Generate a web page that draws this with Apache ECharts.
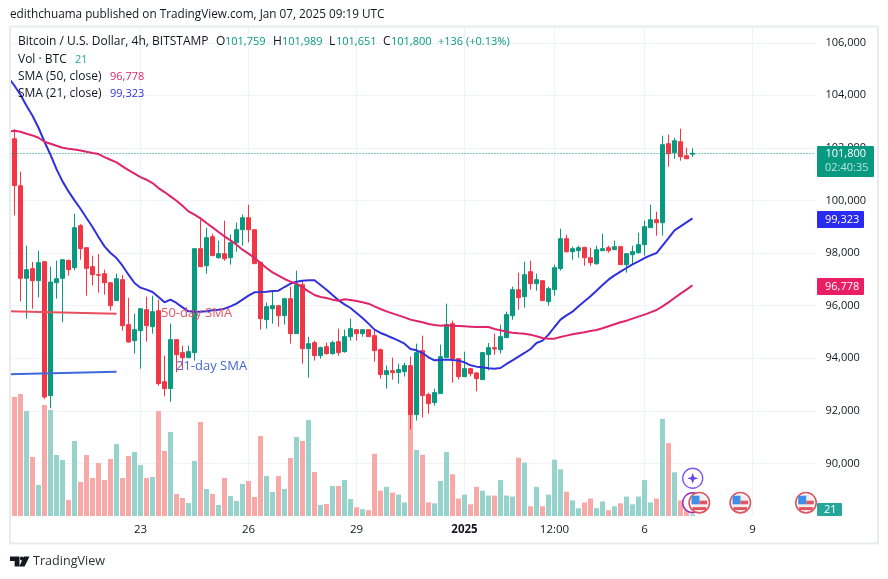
<!DOCTYPE html>
<html><head><meta charset="utf-8">
<style>html,body{margin:0;padding:0;background:#fff}#c{width:888px;height:579px}</style>
<script src="https://cdn.jsdelivr.net/npm/echarts@6/dist/echarts.min.js"></script>
</head><body><div id="c"></div>
<script>
const tickIndex=[21,39,57,75,90,105,123];
const tickText=['23','26','29','2025','12:00','6','9'];
const priceTicksMin=88000, priceTicksMax=106600, priceStep=2000;
const opens=[102350,100563,97040,97407,96951,97673,92579,96875,97040,97724,
97445,99042,98206,97483,97179,97217,96875,96191,96989,95278,
94670,95050,95848,95202,95810,93111,92845,94708,94214,94024,
94214,98168,97521,98624,97825,97977,97825,98396,98890,99346,
98890,97648,95469,95887,96001,95620,96267,94936,96799,94366,
94594,94100,94442,94176,94632,94252,94822,95088,94936,95088,
94860,94328,93378,93529,93454,93492,93720,91857,94290,92617,
92313,92655,94024,95317,93986,93301,93605,93441,93187,94138,
94404,94328,94784,95620,96609,96343,97293,96837,96951,96153,
96609,97407,98548,98053,98092,98218,97825,97597,98092,98206,
98130,98244,97559,97940,98015,98320,98966,99270,99156,102160,
101817,102236,101703,101759];
const closes=[100575,97040,97369,96951,97635,92528,96900,97027,97749,97369,
98966,98168,97420,97179,97154,96875,96000,97027,95240,94619,
95088,95886,95240,95772,93035,92845,94708,94138,94024,94252,
98168,97483,98586,97901,97977,97787,98396,98890,99346,98890,
97598,95507,95963,96001,95620,96267,94936,96799,94366,94556,
94100,94404,94176,94594,94214,94822,95126,94936,95088,94822,
94290,93378,93529,93454,93568,93720,91857,94214,92579,92275,
92693,94062,95278,93986,93301,93605,93415,93225,94214,94404,
94353,94822,95658,96609,96305,97179,96837,96989,96191,96647,
97445,98548,98053,98168,98206,97825,97635,98130,98168,98092,
98244,97559,97977,98053,98320,99004,99270,99156,102122,101779,
102274,101665,101589,101800];
const lows=[99435,96165,95506,95886,96317,92452,92097,96267,95367,97141,
97344,97749,96381,96774,96495,96419,95810,96191,95050,94594,
94176,93605,94632,94936,92959,92553,92351,93466,93567,94024,
93909,97483,97217,97901,97787,97711,97559,98053,98282,98409,
97598,95088,95126,95317,95202,95278,94556,94936,93796,93263,
93910,93986,94138,94138,94100,94214,94670,94670,94822,94822,
93872,93225,92845,93187,93035,93301,91286,91629,91743,91895,
92199,92655,94024,93073,93187,93301,93314,92743,93187,93542,
94138,94176,94784,95468,95848,95924,96609,96571,96191,96000,
96381,97331,98015,97749,97825,97521,97521,97559,98092,98015,
98130,97559,97255,97559,97977,97901,98966,98662,98662,101285,
101589,101513,101589,101651];
const highs=[102717,101095,98282,97661,98092,97699,97483,97711,97749,97749,
99498,99105,98206,97901,97965,97369,96900,97217,97166,96305,
95696,95886,96343,96381,96229,94100,95316,94708,94480,94480,
98168,99308,98966,98738,98472,99232,98700,99156,99461,99841,
98890,97648,96115,96533,96001,96267,96723,97331,96913,94822,
94670,94442,94594,94670,95126,95088,95507,95088,95088,95088,
95050,94366,93720,94024,93796,93834,94062,94556,94860,92693,
92845,94518,96077,95431,93986,94252,93631,93479,94239,94581,
94936,95278,95772,96723,97255,97673,97711,97217,96951,96723,
97559,98928,98700,98244,98282,98244,98206,98282,98738,98282,
98472,98244,97977,98282,98776,99232,99840,99574,102464,102502,
102388,102730,102007,101989];
const volumes=[1666,1708,1470,826,434,1554,1484,854,784,224,1050,476,854,532,742,504,798,1008,532,840,896,714,532,546,1470,910,1176,308,252,182,770,1316,378,308,154,532,280,210,448,490,266,1120,560,336,560,378,812,1106,1050,1344,616,154,168,420,420,504,238,
122,95,82,870,354,408,326,299,190,1420,925,857,190,177,490,898,585,245,299,163,408,354,286,286,503,286,272,816,748,136,408,136,299,789,653,340,218,109,190,245,109,204,82,136,177,272,163,272,503,190,245,1360,1020,612,218,82,21];
const sma21=[104365,104023,103605,103225,102768,102236,101741,101196,100728,100347,
100005,99688,99333,98991,98611,98256,98003,97813,97521,97179,
96862,96685,96609,96520,96330,96127,96229,96102,95937,95785,
95772,95772,95785,95823,95848,95886,95975,96077,96229,96381,
96508,96520,96533,96558,96571,96710,96837,96913,96951,96964,
96964,96787,96609,96406,96204,96052,95912,95722,95532,95317,
95088,94962,94873,94772,94670,94556,94353,94303,94201,94036,
93922,93935,93948,93935,93910,93846,93732,93681,93656,93618,
93605,93631,93783,93922,94061,94201,94353,94581,94670,94898,
95189,95468,95633,95772,95975,96165,96355,96571,96786,96989,
97154,97293,97433,97572,97686,97813,97914,98003,98282,98573,
98865,99017,99169,99323];
const sma50=[102654,102616,102540,102476,102388,102236,102160,102083,102007,101969,
101944,101906,101855,101805,101767,101653,101551,101450,101298,101158,
101019,100892,100791,100664,100474,100322,100157,99993,99802,99587,
99460,99321,99143,98979,98801,98636,98484,98320,98130,97978,
97813,97623,97433,97268,97141,97015,96913,96837,96698,96546,
96406,96330,96292,96229,96191,96242,96216,96178,96128,96077,
95975,95874,95785,95709,95633,95557,95469,95418,95367,95304,
95266,95240,95253,95240,95228,95215,95202,95189,95189,95189,
95113,95063,95012,94974,94949,94936,94898,94835,94771,94746,
94746,94809,94860,94911,94949,94987,95037,95075,95139,95215,
95291,95367,95430,95506,95582,95658,95747,95836,95975,96127,
96292,96457,96609,96778];
const leadVolume=364, leadSma21=104669, leadSma50=102616;
const note50=[95784,95696], note21=[93396,93491];
const lastPrice=101800;

const UP='#089981', DOWN='#f23645', VOLUP='#95d3cc', VOLDOWN='#f6a9a7';
const BLUE='#3030dc', PINK='#e0246a', INK='#131722';
const FONT='"Open Sans", sans-serif';
const FUTURE=20;
const cats=[]; for(let i=-1;i<opens.length+FUTURE;i++) cats.push(String(i));
const labelOf=v=>{const k=tickIndex.indexOf(+v);return k<0?'':(tickText[k]==='2025'?'{b|2025}':tickText[k]);};
const isTick=(idx,v)=>tickIndex.indexOf(+v)>=0;

const candle=[['-','-','-','-']].concat(opens.map((o,i)=>[o,closes[i],lows[i],highs[i]]));
const volData=[{value:leadVolume,itemStyle:{color:VOLUP}}].concat(volumes.map((v,i)=>({value:v,itemStyle:{color:closes[i]>=opens[i]?VOLUP:VOLDOWN}})));

function t(x,y,text,fill,size,extra){return {type:'text',x:x,y:y,z:100,silent:true,style:Object.assign({text:text,fill:fill||INK,font:(size||12)+'px '+FONT,textVerticalAlign:'middle'},extra||{})};}
function badge(x,y,w,h,fill){return {type:'rect',z:99,silent:true,shape:{x:x,y:y,width:w,height:h,r:1},style:{fill:fill}};}
function flag(cx,cy){return {type:'group',x:cx,y:cy,silent:true,children:[
 {type:'circle',z:102,shape:{cx:0,cy:0,r:10.2},style:{fill:'#fff',stroke:'#dc5660',lineWidth:1.6}},
 {type:'circle',z:103,shape:{cx:0,cy:0,r:8.2},style:{fill:'#f2eeee'}},
 {type:'rect',z:104,shape:{x:-7.8,y:-7,width:8,height:8.6},style:{fill:'#3f8fe6'}},
 {type:'rect',z:104,shape:{x:0.2,y:-2,width:7.6,height:3.6},style:{fill:'#e0555f'}},
 {type:'rect',z:104,shape:{x:-6.8,y:4.4,width:13.6,height:3},style:{fill:'#e0555f'}}
]};}
function poly(points,fill){return {type:'polygon',z:101,silent:true,shape:{points:points},style:{fill:fill}};}

const graphics=[
 {type:'rect',z:90,silent:true,shape:{x:0,y:0,width:9.5,height:579},style:{fill:'#fff'}},
 {type:'rect',z:91,silent:true,shape:{x:10,y:26.5,width:868,height:517},style:{fill:'none',stroke:'#e9ebef',lineWidth:2}},
 t(10,15,'edithchuama published on TradingView.com, Jan 07, 2025 09:19 UTC',INK,11.75),
 t(18,42,'Bitcoin / U.S. Dollar, 4h, BITSTAMP',INK,12),
 t(216,42,'O',INK,12),t(225,42,'101,759',UP,11),
 t(273,42,'H',INK,12),t(282,42,'101,989',UP,11),
 t(329,42,'L',INK,12),t(336,42,'101,651',UP,11),
 t(383,42,'C',INK,12),t(391,42,'101,800',UP,11),
 t(438,42,'+136 (+0.13%)',UP,11),
 t(18,60,'Vol · BTC',INK,12),t(75,60,'21','#26a69a',11),
 t(18,77,'SMA (50, close)',INK,12),t(110,77,'96,778',PINK,11),
 t(18,94,'SMA (21, close)',INK,12),t(110,94,'99,323',BLUE,11),
 t(161,313,'50-day SMA','#e25562',13),
 t(176,366,'21-day SMA','#4369cf',13),
 badge(817,146,57,31,UP),
 t(825.5,153.5,'101,800','#fff',11),t(825,168,'02:40:35','#b5e6dc',11),
 badge(817,211,47,17,'#2a2af0'),t(825,219.5,'99,323','#fff',11),
 badge(817,278,47,17,'#e91e63'),t(825,286.5,'96,778','#fff',11),
 badge(817,503,25,13,'#26a69a'),t(824,510,'21','#fff',11),
 {type:'circle',z:100,silent:true,shape:{cx:692.7,cy:478.3,r:10},style:{fill:'#fff',stroke:'#7a5af5',lineWidth:1.4}},
 poly([[692.7,472.8],[694.1,476.9],[698.2,478.3],[694.1,479.7],[692.7,483.8],[691.3,479.7],[687.2,478.3],[691.3,476.9]],'#6a45f2'),
 {type:'circle',z:100,silent:true,shape:{cx:692.7,cy:502.7,r:10},style:{fill:'#fff',stroke:'#9c27b0',lineWidth:1.4}},
 flag(699.3,502.7),flag(740.3,502.7),flag(806,502.7),
 poly([[10,556.5],[19.5,556.5],[19.5,566.5],[14.6,566.5],[14.6,561],[10,561]],INK),
 poly([[29.5,556.5],[24.6,566.5],[19.2,566.5],[24.1,556.5]],INK),
 {type:'circle',z:101,silent:true,shape:{cx:22,cy:558.6,r:2.1},style:{fill:INK}},
 t(33,561.5,'TradingView','#2e3238',12.6)
];

const chart=echarts.init(document.getElementById('c'),null,{renderer:'canvas'});
chart.setOption({
 animation:false,backgroundColor:'#fff',
 grid:{left:5.5,width:810,top:27,height:489,containLabel:false},
 xAxis:{type:'category',data:cats,boundaryGap:true,
  axisLine:{show:false},axisTick:{show:false},
  axisLabel:{interval:isTick,formatter:labelOf,color:INK,fontFamily:FONT,fontSize:11.5,margin:8,hideOverlap:false,
   rich:{b:{fontWeight:'bold',fontFamily:FONT,fontSize:11.5,color:INK}}},
  splitLine:{show:true,alignWithLabel:true,interval:isTick,lineStyle:{color:'#f0f3fa',width:1}}},
 yAxis:[
  {type:'value',position:'right',min:priceTicksMin,max:priceTicksMax,interval:priceStep,
   axisLine:{show:false},axisTick:{show:false},
   axisLabel:{showMinLabel:false,showMaxLabel:false,margin:10,color:INK,fontFamily:FONT,fontSize:11,
    formatter:v=>v.toLocaleString('en-US')},
   splitLine:{show:true,showMinLine:false,showMaxLine:false,lineStyle:{color:'#f0f3fa',width:1}}},
  {type:'value',position:'right',min:0,max:6846,show:false,splitLine:{show:false}}
 ],
 series:[
  {type:'bar',name:'Vol',yAxisIndex:1,data:volData,barWidth:5,z:1,silent:true},
  {type:'candlestick',name:'BTCUSD',data:candle,barWidth:5,z:3,silent:true,
   itemStyle:{color:UP,color0:DOWN,borderColor:UP,borderColor0:DOWN,borderWidth:1},
   markLine:{symbol:'none',silent:true,label:{show:false},animation:false,
    lineStyle:{color:UP,type:[1,2],width:1},data:[{yAxis:lastPrice}]}},
  {type:'line',name:'SMA21',data:[leadSma21].concat(sma21),symbol:'none',z:5,silent:true,
   lineStyle:{color:BLUE,width:2}},
  {type:'line',name:'SMA50',data:[leadSma50].concat(sma50),symbol:'none',z:5,silent:true,
   lineStyle:{color:PINK,width:2}},
  {type:'line',name:'note50',data:[[cats[0],note50[0]],[cats[18],note50[1]]],symbol:'none',z:6,silent:true,
   lineStyle:{color:'#e8505e',width:2}},
  {type:'line',name:'note21',data:[[cats[0],note21[0]],[cats[18],note21[1]]],symbol:'none',z:6,silent:true,
   lineStyle:{color:'#3f68d8',width:2}}
 ],
 graphic:graphics
});
</script></body></html>
